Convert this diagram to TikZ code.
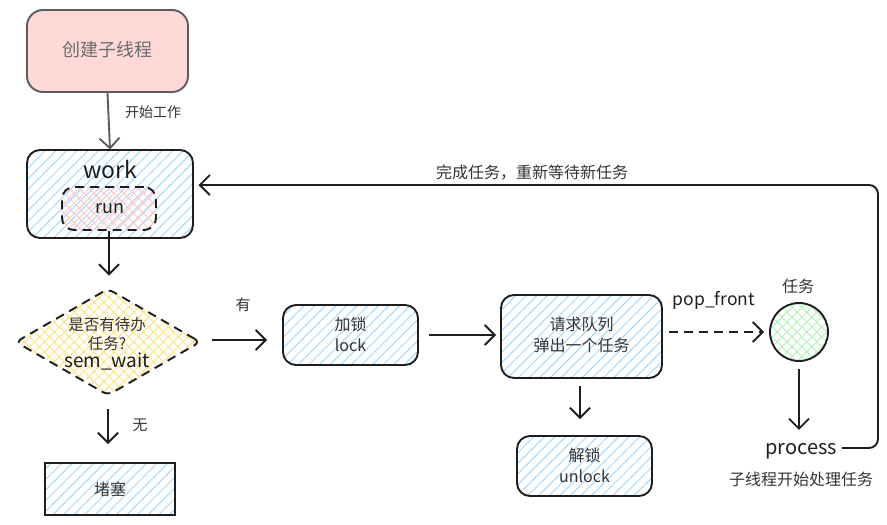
\documentclass[tikz,border=0pt]{standalone}
\usepackage{fontspec}
\setmainfont{Noto Sans CJK SC}
\usetikzlibrary{shapes.geometric,patterns.meta,arrows.meta,calc}
\definecolor{ink}{HTML}{1E1E1E}
\definecolor{txt}{HTML}{333333}
\definecolor{hblue}{HTML}{A5D8FF}
\definecolor{hpink}{HTML}{FFC9C9}
\definecolor{hyellow}{HTML}{FFE38A}
\definecolor{hgreen}{HTML}{B2F2BB}
\definecolor{pinkfill}{HTML}{FFD8D8}
\definecolor{grayline}{HTML}{5C5C5C}
\tikzset{
  boxbase/.style={draw=ink, line width=1.9pt, inner sep=0pt},
  bluehatch/.style={pattern={Lines[angle=45,distance=7.5pt,line width=1pt]}, pattern color=hblue},
  crosshatch/.style={pattern={Hatch[angle=45,distance=7pt,line width=1pt]}, pattern color=#1},
  procbox/.style={boxbase, bluehatch, rounded corners=13pt},
  txtlbl/.style={text=txt, font=\fontsize{15}{16}\selectfont, inner sep=0pt},
  boxtxt/.style={text=txt, font=\fontsize{16}{21}\selectfont, align=center, inner sep=0pt},
  handtxt/.style={text=ink, font=\fontsize{20}{22}\selectfont, inner sep=0pt},
  arr/.style={draw=ink, line width=1.9pt, -{Straight Barb[length=10pt,width=20pt,line width=1.9pt]}},
  dasharr/.style={arr, dash pattern=on 9pt off 6pt},
  dashbox/.style={draw=ink, line width=1.9pt, dash pattern=on 9pt off 6pt}
}
\begin{document}
\begin{tikzpicture}[x=1pt,y=-1pt]
\useasboundingbox (0,0) rectangle (887,525);
% create thread
\node[draw=grayline, line width=1.9pt, fill=pinkfill, rounded corners=16pt,
      minimum width=161pt, minimum height=82pt, inner sep=0pt] (create) at (107.5,51) {};
\node[text=grayline!90, font=\fontsize{18}{20}\selectfont, inner sep=0pt] (createtxt) at (107.5,50) {创建子线程};
% work box
\node[procbox, minimum width=166pt, minimum height=88pt] (work) at (110,194) {};
\node[handtxt, font=\fontsize{23}{24}\selectfont] (worktxt) at (110,169) {work};
\node[dashbox, crosshatch=hpink, rounded corners=12pt, minimum width=94pt, minimum height=43pt] (run) at (109,208.5) {};
\node[text=ink, font=\fontsize{18}{20}\selectfont, inner sep=0pt] (runtxt) at (110,209) {run};
% diamond
\node[shape=diamond, dashbox, crosshatch=hyellow, rounded corners=6pt, inner sep=0pt,
      minimum width=185pt, minimum height=107pt] (dia) at (108,342) {};
\node[boxtxt, font=\fontsize{15.5}{19}\selectfont] (diatxt) at (107,344)
  {是否有待办\\任务?\\[-1pt]{\color{ink}\fontsize{19}{19}\selectfont sem\_wait}};
% lock
\node[procbox, minimum width=135pt, minimum height=60pt] (lock) at (350.5,335) {};
\node[boxtxt] (locktxt) at (350.5,334) {加锁\\lock};
% queue
\node[procbox, minimum width=161pt, minimum height=83pt] (queue) at (581.5,336.5) {};
\node[boxtxt] (queuetxt) at (581.5,335) {请求队列\\弹出一个任务};
% task circle
\node[circle, draw=ink, line width=1.9pt, crosshatch=hgreen, minimum size=58pt, inner sep=0pt] (task) at (799,332) {};
\node[txtlbl, font=\fontsize{16}{17}\selectfont] (tasklbl) at (798,286) {任务};
% process
\node[handtxt] (process) at (801,451) {process};
\node[txtlbl, font=\fontsize{16}{17}\selectfont] (proclbl) at (801,479) {子线程开始处理任务};
% unlock
\node[procbox, minimum width=135pt, minimum height=60pt] (unlock) at (584.5,466) {};
\node[boxtxt] (unlocktxt) at (584.5,465) {解锁\\unlock};
% block
\node[boxbase, bluehatch, minimum width=130pt, minimum height=52pt] (block) at (110,489) {};
\node[boxtxt] (blocktxt) at (110,489) {堵塞};
% connectors
\draw[arr, draw=grayline] (create.south) -- (work.north);
\node[txtlbl, font=\fontsize{14}{15}\selectfont] (startlbl) at (153,112) {开始工作};
\draw[arr] ($(run.south)+(0,0)$) -- ($(dia.north)+(1,-12)$);
\draw[arr] ($(dia.east)+(11,-2)$) -- ($(lock.west)+(-15,5)$);
\node[txtlbl] (yes) at (243,305) {有};
\draw[arr] ($(lock.east)+(10,0)$) -- ($(queue.west)+(-4,-1.5)$);
\draw[dasharr] ($(queue.east)+(6,-4.5)$) -- ($(task.west)+(-5,0)$);
\node[text=ink, font=\fontsize{17.5}{18}\selectfont, inner sep=0pt] (poplbl) at (714,300) {pop\_front};
\draw[arr] ($(queue.south)+(-1.5,7)$) -- ($(unlock.north)+(-4.5,-16)$);
\draw[arr] ($(task.south)+(0,7)$) -- ($(process.north)+(-2,-13)$);
\draw[arr] ($(dia.south)+(0,13)$) -- ($(block.north)+(-2,-18)$);
\node[txtlbl] (no) at (140,425) {无};
\draw[arr, rounded corners=9pt] ($(process.east)+(5,-3)$) -- (878,448) -- (878,185) -- ($(work.east)+(5,-9)$);
\node[txtlbl, font=\fontsize{16}{17}\selectfont] (donelbl) at (532,173) {完成任务，重新等待新任务};
\end{tikzpicture}
\end{document}
